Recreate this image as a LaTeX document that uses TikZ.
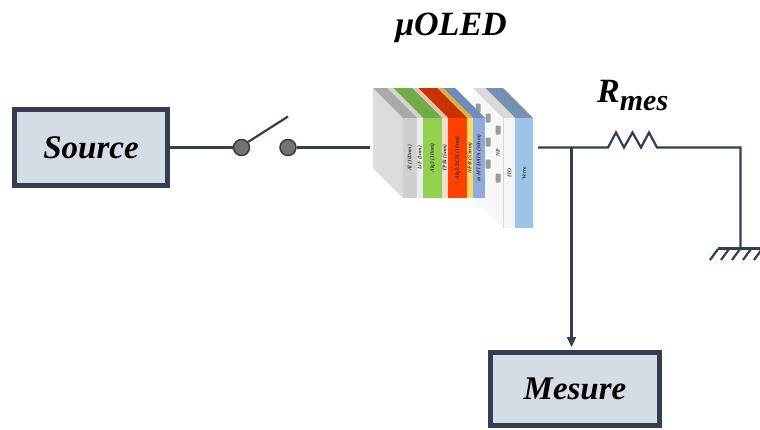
\documentclass[tikz,border=0pt]{standalone}
\usepackage{fontspec}
\setmainfont{Liberation Serif}
\usetikzlibrary{arrows.meta}

\definecolor{wire}{HTML}{333F50}
\definecolor{boxfill}{HTML}{D6DCE5}
\definecolor{knob}{HTML}{767171}
% layer colours: front face, top face, side face
\definecolor{alF}{HTML}{CFCFCF}\definecolor{alT}{HTML}{A9A9A9}\definecolor{alS}{HTML}{DCDCDC}
\definecolor{lifF}{HTML}{EBEBEB}\definecolor{lifT}{HTML}{D2D2D2}
\definecolor{alqF}{HTML}{92D050}\definecolor{alqT}{HTML}{70AD47}
\definecolor{tpbF}{HTML}{F8DCCB}\definecolor{tpbT}{HTML}{E2C2B0}
\definecolor{dcmF}{HTML}{FF4000}\definecolor{dcmT}{HTML}{C83200}
\definecolor{npbF}{HTML}{FFD966}\definecolor{npbT}{HTML}{E0B040}
\definecolor{mtdF}{HTML}{8FAADC}\definecolor{mtdT}{HTML}{6F8BC0}
\definecolor{itoF}{HTML}{F5F5F5}\definecolor{itoT}{HTML}{D9D9D9}\definecolor{itoS}{HTML}{F7F7F7}
\definecolor{glsF}{HTML}{9DC3E6}\definecolor{glsT}{HTML}{7891B0}
\definecolor{npdot}{HTML}{9A9A9A}

% one slab of the stack: front x1..x2, bottom y, front/top/side fills
\newcommand\oledslab[6]{%
  \fill[#6] (#1,118) -- (#1-30,88) -- (#1-30,#3-30) -- (#1,#3) -- cycle;
  \fill[#5] (#1,118) -- (#1-30,88) -- (#2-30,88) -- (#2,118) -- cycle;
  \fill[#4] (#1,118) rectangle (#2,#3);
}

\begin{document}
\begin{tikzpicture}[x=1pt,y=-1pt,
  wireline/.style={draw=wire,line width=2.2pt},
  blockbox/.style={draw=wire,line width=5pt,fill=boxfill,inner sep=0pt,
    font=\bfseries\itshape\fontsize{33}{33}\selectfont},
  contact/.style={circle,draw=wire,line width=1.5pt,fill=knob,minimum size=16pt,inner sep=0pt},
  layertext/.style={rotate=90,inner sep=0pt,text=black!80,
    font=\bfseries\itshape\fontsize{5.5}{5.5}\selectfont},
  title/.style={inner sep=0pt,font=\bfseries\itshape\fontsize{34}{34}\selectfont},
  npbox/.style={fill=npdot,rounded corners=0.8pt}]

\useasboundingbox (0,0) rectangle (760,429);

% blocks
\node[blockbox,minimum width=153pt,minimum height=76pt] (source) at (91,147.5) {Source};
\node[blockbox,minimum width=169pt,minimum height=73pt] (mesure) at (575,389) {Mesure};

% switch
\node[contact] (sw1) at (241.5,147.5) {};
\node[contact] (sw2) at (288,147.5) {};
\coordinate (lever) at (288,116.5);

% stack, drawn from the glass side towards the cathode
\oledslab{515}{533}{228}{glsF}{glsT}{glsF}
\oledslab{503}{515}{228}{itoF}{itoT}{itoS}
\draw[black!15,line width=0.4pt] (503,118) -- (503,228);
\foreach \px/\py in {478/108,488/118,498/130,488/142,488/164,498/178}
  \fill[npbox] (\px-2.5,\py-4.5) rectangle (\px+2.5,\py+4.5);
\oledslab{473}{485}{198}{mtdF}{mtdT}{mtdF}
\oledslab{467}{473}{198}{npbF}{npbT}{npbF}
\oledslab{448}{467}{198}{dcmF}{dcmT}{dcmF}
\oledslab{442}{448}{198}{tpbF}{tpbT}{tpbF}
\oledslab{423}{442}{198}{alqF}{alqT}{alqF}
\oledslab{417}{423}{198}{lifF}{lifT}{lifF}
\oledslab{403}{417}{198}{alF}{alT}{alS}

\node[layertext] (tAl) at (410,158) {Al (100nm)};
\node[layertext] (tLiF) at (420,158) {LiF (1nm)};
\node[layertext] (tAlq) at (432.5,158) {Alq3 (10nm)};
\node[layertext] (tTPBi) at (445,158) {TPBi (5nm)};
\node[layertext] (tDCM) at (457.5,158) {Alq3:DCM (10nm)};
\node[layertext] (tNPB) at (470,158) {NPB (7.5nm)};
\node[layertext] (tMTD) at (479,158) {m-MTDATA (30nm)};
\node[layertext] (tNP) at (498,153) {NP};
\node[layertext] (tITO) at (509.5,173) {ITO};
\node[layertext] (tVerre) at (524,173) {Verre};

\coordinate (oledin) at (370,147.5);
\coordinate (oledout) at (538,147.5);

% labels
\node[title,anchor=base] (oledtitle) at (451,35) {μOLED};
\node[title,anchor=base west] (rlabel) at (597,102)
  {R\raisebox{-8pt}{\fontsize{30}{30}\selectfont mes}};

% wiring
\coordinate (junction) at (571.5,147.5);
\coordinate (resA) at (608,147.5);
\coordinate (corner) at (740.5,147.5);
\coordinate (ground) at (740.5,248.5);

\draw[wireline] (source.east) -- (sw1.west);
\draw[wireline] (sw1.40) -- (lever);
\draw[wireline] (sw2.east) -- (oledin);
\draw[wireline,line join=miter] (oledout) -- (resA) -- ++(8,-15) -- ++(8,15) -- ++(8.5,-15)
  -- ++(8.5,15) -- ++(8,-15) -- ++(8,15) -- (corner) -- (ground);
\draw[wireline] (ground -| 718,0) -- (760,248.5);
\foreach \k in {0,1,2,3,4}
  \draw[wireline] (718+11*\k,249) -- ++(-8,11);
\draw[wireline,-{Triangle[length=10pt,width=9pt]},shorten >=3pt] (junction) -- (mesure.north -| junction);

\end{tikzpicture}
\end{document}
